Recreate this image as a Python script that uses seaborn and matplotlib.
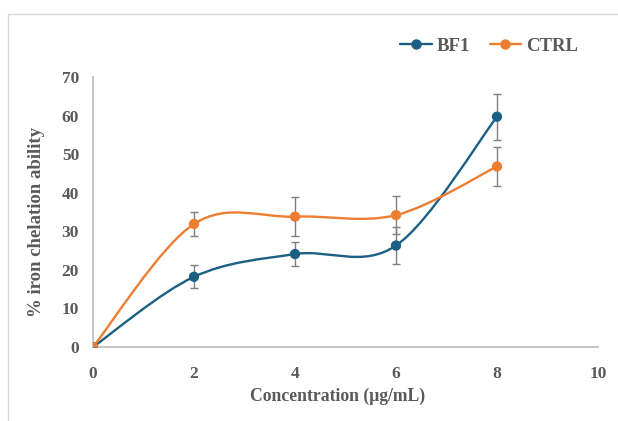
import matplotlib
matplotlib.use('Agg')
import matplotlib.pyplot as plt
import seaborn as sns
import numpy as np
import pandas as pd
from matplotlib.path import Path
from matplotlib.patches import PathPatch, Rectangle
from matplotlib.lines import Line2D

# data
conc = [0, 2, 4, 6, 8]
bf1 = [0, 18.2, 24.1, 26.3, 59.7]
bf1_err = [0, 3.0, 3.0, 4.9, 6.0]
ctrl = [0, 31.9, 33.8, 34.2, 46.8]
ctrl_err = [0, 3.0, 5.0, 4.9, 5.0]

series = ['BF1', 'CTRL']
colors = {'BF1': '#1b5f83', 'CTRL': '#ed7d31'}
text_col = '#595959'

df = pd.DataFrame({
    'conc': conc * 2,
    'value': bf1 + ctrl,
    'err': bf1_err + ctrl_err,
    'series': ['BF1'] * len(conc) + ['CTRL'] * len(conc),
})

sns.set_theme(style='white')
plt.rcParams['font.family'] = ['Liberation Serif', 'DejaVu Serif']
plt.rcParams['font.weight'] = 'bold'


def smooth_path(xs, ys):
    # excel-like smoothed line: cubic bezier segments (catmull-rom control points)
    p = np.column_stack([xs, ys]).astype(float)
    n = len(p)
    verts = [p[0]]
    codes = [Path.MOVETO]
    for i in range(n - 1):
        prev = p[i - 1] if i > 0 else p[i]
        nxt = p[i + 2] if i + 2 < n else p[i + 1]
        c1 = p[i] + (p[i + 1] - prev) / 6
        c2 = p[i + 1] - (nxt - p[i]) / 6
        verts += [c1, c2, p[i + 1]]
        codes += [Path.CURVE4] * 3
    return Path(verts, codes)


fig = plt.figure(figsize=(6.18, 4.21), dpi=100)
ax = fig.add_axes([0.1505, 0.1758, 0.8171, 0.6413])

# outer chart frame
fig.patches.append(Rectangle((8 / 618, -0.1), 1.2, 1 - 14 / 421 + 0.1,
                             transform=fig.transFigure, fill=False,
                             edgecolor='#d9d9d9', lw=1.0))

for s in series:
    d = df[df['series'] == s]
    ax.add_patch(PathPatch(smooth_path(d['conc'], d['value']), fill=False,
                           edgecolor=colors[s], lw=1.7, zorder=2))
    ax.errorbar(d['conc'], d['value'], yerr=d['err'], fmt='none',
                ecolor='#7f7f7f', elinewidth=1.0, capsize=3.2, capthick=1.0,
                zorder=3)

sns.scatterplot(data=df, x='conc', y='value', hue='series', palette=colors,
                s=55, edgecolor='none', legend=False, ax=ax, zorder=4)

ax.set_xlim(0, 10)
ax.set_ylim(0, 70)
ax.set_xticks(range(0, 11, 2))
ax.set_yticks(range(0, 71, 10))
ax.tick_params(axis='x', length=0, labelsize=12.5, labelcolor=text_col, pad=14)
ax.tick_params(axis='y', length=0, labelsize=12.5, labelcolor=text_col, pad=10)
for lbl in ax.get_xticklabels() + ax.get_yticklabels():
    lbl.set_fontweight('bold')

ax.set_xlabel('Concentration (μg/mL)', fontsize=12.7, fontweight='bold',
              color=text_col)
ax.set_ylabel('% iron chelation ability', fontsize=13.5, fontweight='bold',
              color=text_col)
ax.xaxis.set_label_coords(0.485, -0.152)
ax.yaxis.set_label_coords(-0.095, 0.463)

for side in ['top', 'right']:
    ax.spines[side].set_visible(False)
for side in ['left', 'bottom']:
    ax.spines[side].set_color('#bfbfbf')
    ax.spines[side].set_linewidth(1.3)

handles = [Line2D([0], [0], color=colors[s], lw=1.7, marker='o', markersize=6.5)
           for s in series]
ax.legend(handles, series, loc='center', bbox_to_anchor=(489 / 618, 1 - 46 / 421),
          bbox_transform=fig.transFigure, ncol=2, frameon=False,
          prop={'size': 13.5, 'weight': 'bold'}, labelcolor=text_col,
          handlelength=1.7, columnspacing=1.05, handletextpad=0.25,
          borderpad=0, borderaxespad=0)

fig.savefig('out.png', dpi=100)
